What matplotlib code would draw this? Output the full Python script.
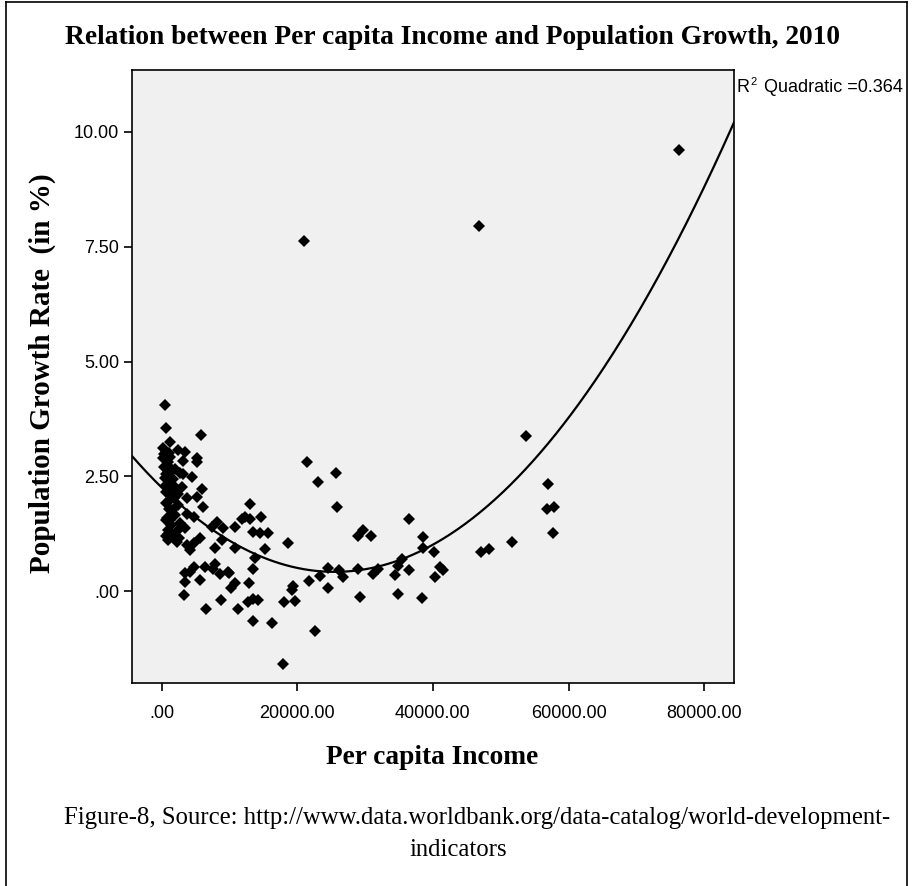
import numpy as np
import matplotlib
matplotlib.use("Agg")
import matplotlib.pyplot as plt
from matplotlib.lines import Line2D

# Per capita income (x) and population growth rate in % (y)
income = [500, 700, 5800, 1200, 600, 2400, 3400, 3100, 5200, 5200, 1200, 300, 1500, 700,
          2700, 3200, 4400, 1700, 700, 2000, 5900, 1100, 3700, 5200, 700, 1500, 2400, 6100,
          3700, 4700, 2700, 1000, 3400, 7400, 8100, 9100, 1700, 2200, 3700, 4700, 5600, 4200,
          7900, 8850, 4700, 6400, 7900, 13000, 14700, 13000, 11800, 10800, 13500, 14500, 15700,
          18700, 10800, 15200, 13800, 13500, 9800, 3400, 4200, 3400, 5600, 8600, 10000, 10800,
          10200, 12900, 3300, 6500, 8700, 11200, 12800, 13500, 14200, 13500, 16200, 18000,
          19200, 19400, 19700, 21700, 17900, 7500, 24500, 23400, 24600, 22600, 21000, 21500,
          23100, 25700, 25800, 26200, 26700, 28900, 29200, 28900, 29700, 30900, 31200, 31900,
          34400, 34900, 35500, 36500, 34800, 36400, 38400, 38500, 38600, 40100, 40300, 41000,
          41500, 46800, 47100, 48200, 51600, 53700, 56900, 56800, 57900, 57700, 76300,
          200, 900, 1500, 500, 1800, 1200, 2400, 3000, 2000, 900, 200, 600, 12300,
          400, 800, 1000, 1300, 600, 900, 1100, 800, 1400, 1600, 1000, 700, 1300, 1900,
          2200, 2600, 1100, 900]
growth = [4.05, 3.56, 3.41, 3.25, 3.04, 3.07, 3.04, 2.84, 2.89, 2.82, 2.92, 2.71, 2.64, 2.56,
          2.58, 2.56, 2.49, 2.44, 2.31, 2.27, 2.23, 2.13, 2.02, 2.05, 1.91, 1.77, 1.87, 1.83,
          1.69, 1.62, 1.48, 1.33, 1.37, 1.40, 1.51, 1.37, 1.18, 1.07, 1.00, 1.04, 1.15, 0.89,
          0.93, 1.11, 0.53, 0.52, 0.60, 1.90, 1.62, 1.58, 1.58, 1.40, 1.29, 1.26, 1.27,
          1.05, 0.93, 0.92, 0.72, 0.49, 0.42, 0.39, 0.42, 0.20, 0.24, 0.37, 0.39, 0.18,
          0.06, 0.18, -0.09, -0.38, -0.19, -0.39, -0.23, -0.17, -0.20, -0.65, -0.69, -0.23,
          0.02, 0.11, -0.21, 0.23, -1.58, 0.48, 0.51, 0.33, 0.06, -0.87, 7.63, 2.81,
          2.37, 2.58, 1.84, 0.46, 0.30, 0.48, -0.12, 1.20, 1.34, 1.20, 0.37, 0.49,
          0.36, 0.55, 0.71, 0.47, -0.07, 1.58, -0.14, 1.18, 0.93, 0.86, 0.31, 0.53,
          0.46, 7.95, 0.85, 0.92, 1.06, 3.38, 2.33, 1.79, 1.84, 1.26, 9.61,
          3.12, 2.81, 2.20, 2.46, 2.03, 1.55, 2.11, 2.27, 1.66, 1.11, 2.90, 1.55, 1.61,
          2.98, 2.75, 2.60, 2.35, 2.15, 1.95, 1.80, 1.60, 1.45, 2.05, 1.25, 1.20, 2.40,
          2.65, 1.30, 1.15, 3.00, 2.50]

x_ticks = [0, 20000, 40000, 60000, 80000]
x_tick_labels = [".00", "20000.00", "40000.00", "60000.00", "80000.00"]
y_ticks = [0, 2.5, 5.0, 7.5, 10.0]
y_tick_labels = [".00", "2.50", "5.00", "7.50", "10.00"]
x_range = (-4450, 84400)
y_range = (-2.0, 11.35)

title = "Relation between Per capita Income and Population Growth, 2010"
x_label = "Per capita Income"
y_label = "Population Growth Rate  (in %)"
r2_label = "Quadratic =0.364"
caption_1 = "Figure-8, Source: http://www.data.worldbank.org/data-catalog/world-development-"
caption_2 = "indicators"

W, H = 913, 886
fig = plt.figure(figsize=(W / 100, H / 100), dpi=100)
fig.patch.set_facecolor("white")

def fx(px):
    return px / W

def fy(py):
    return 1 - py / H

ax = fig.add_axes([fx(131.5), fy(683), (734 - 131.5) / W, (683 - 70) / H])
ax.set_facecolor("#f0f0f0")

ax.plot(income, growth, linestyle="none", marker="D", ms=5.8, color="black",
        markeredgewidth=0, zorder=3)

coef = np.polyfit(income, growth, 2)
xs = np.linspace(x_range[0], x_range[1], 400)
ax.plot(xs, np.polyval(coef, xs), color="black", lw=1.6, zorder=2)

ax.set_xlim(*x_range)
ax.set_ylim(*y_range)
ax.set_xticks(x_ticks)
ax.set_xticklabels(x_tick_labels)
ax.set_yticks(y_ticks)
ax.set_yticklabels(y_tick_labels)
for s in ax.spines.values():
    s.set_color("black")
    s.set_linewidth(1.2)
ax.tick_params(direction="out", length=6, width=1.2, colors="black", labelsize=13)
ax.tick_params(axis="x", pad=10)
ax.tick_params(axis="y", pad=3)
for lab in ax.get_xticklabels() + ax.get_yticklabels():
    lab.set_family("Liberation Sans")

fig.text(fx(432), fy(757), x_label, ha="center", va="center", family="Liberation Serif",
         fontweight="bold", fontsize=19.7)
fig.text(fx(42), fy(373), y_label, ha="center", va="center", rotation=90,
         family="Liberation Serif", fontweight="bold", fontsize=21)

fig.text(fx(452), fy(38), title, ha="center", va="center", family="Liberation Serif",
         fontweight="bold", fontsize=19.8)

# R squared annotation
fig.text(fx(736), fy(88), "R", ha="left", va="center", family="Liberation Sans", fontsize=13)
fig.text(fx(750), fy(82), "2", ha="left", va="center", family="Liberation Sans", fontsize=8)
fig.text(fx(764), fy(88), r2_label, ha="left", va="center", family="Liberation Sans",
         fontsize=13)

fig.text(fx(477), fy(818), caption_1, ha="center", va="center", family="Liberation Serif",
         fontsize=17.8)
fig.text(fx(458), fy(850), caption_2, ha="center", va="center", family="Liberation Serif",
         fontsize=17.8)

# outer frame (open at the bottom)
for xa, ya in [([fx(6), fx(6)], [fy(2), 0]), ([fx(907), fx(907)], [fy(2), 0]),
               ([fx(6), fx(907)], [fy(2), fy(2)])]:
    fig.add_artist(Line2D(xa, ya, transform=fig.transFigure, color="black", lw=1.2))

fig.savefig("out.png", dpi=100)
